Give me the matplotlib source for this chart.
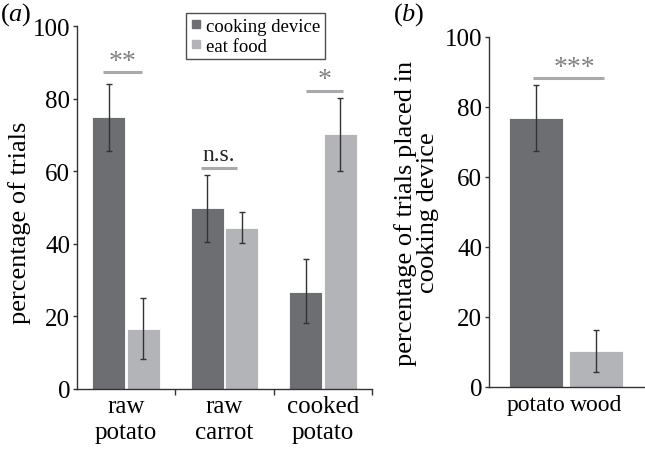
import matplotlib
matplotlib.use('Agg')
import matplotlib.pyplot as plt
from matplotlib.lines import Line2D
import numpy as np

plt.rcParams['font.family'] = ['Liberation Serif', 'DejaVu Serif']
plt.rcParams['mathtext.fontset'] = 'custom'
plt.rcParams['mathtext.rm'] = 'Liberation Serif'
plt.rcParams['mathtext.it'] = 'Liberation Serif:italic'

# panel (a) data
groups = ['raw\npotato', 'raw\ncarrot', 'cooked\npotato']
device = [74.8, 49.8, 26.8]
device_lo = [65.6, 40.6, 18.1]
device_hi = [84.1, 59.0, 35.7]
eat = [16.5, 44.3, 70.2]
eat_lo = [8.2, 40.1, 60.0]
eat_hi = [25.2, 48.7, 80.3]
sig_a = ['**', 'n.s.', '*']
sig_a_y = [87.2, 60.9, 82.2]

# panel (b) data
items = ['potato', 'wood']
placed = [76.9, 10.4]
placed_lo = [67.5, 4.2]
placed_hi = [86.3, 16.4]

dark = '#6d6e71'
light = '#b2b4b7'
sigc = '#a7a9ac'
axc = '#333333'

fig = plt.figure(figsize=(6.45, 4.52), dpi=100)

def style(ax):
    ax.spines['top'].set_visible(False)
    ax.spines['right'].set_visible(False)
    for s in ['left', 'bottom']:
        ax.spines[s].set_color(axc)
        ax.spines[s].set_linewidth(1.0)
    ax.set_ylim(0, 100)
    ax.set_yticks([0, 20, 40, 60, 80, 100])
    ax.tick_params(axis='y', length=3, width=1, color=axc, labelsize=18, pad=2)

# ---- (a)
ax = fig.add_axes([77/645, 62/452, 295/645, 363/452])
x = np.arange(len(groups))
w = 0.335
err_kw = dict(ecolor='#333333', elinewidth=1, capsize=2.5, capthick=1)
ax.bar(x - 0.175, device, w, color=dark, edgecolor='white', linewidth=0.6,
       yerr=[np.subtract(device, device_lo), np.subtract(device_hi, device)], error_kw=err_kw)
ax.bar(x + 0.175, eat, w, color=light, edgecolor='white', linewidth=0.6,
       yerr=[np.subtract(eat, eat_lo), np.subtract(eat_hi, eat)], error_kw=err_kw)
ax.set_xlim(-0.5, 2.5)
style(ax)
ax.set_xticks([0.5, 1.5, 2.5])
ax.set_xticklabels([])
ax.tick_params(axis='x', length=4, width=1, color=axc)
ax.set_xticks(x, minor=True)
ax.set_xticklabels(groups, minor=True, fontsize=18, linespacing=1.25)
ax.tick_params(axis='x', which='minor', length=0, pad=4)
ax.set_ylabel('percentage of trials', fontsize=19)
ax.yaxis.set_label_coords(-0.155, 0.46)

spans = [(-0.24, 0.16), (0.76, 1.13), (1.83, 2.20)]
for (a0, a1), yy, lab in zip(spans, sig_a_y, sig_a):
    ax.plot([a0, a1], [yy, yy], color=sigc, lw=2.2, solid_capstyle='butt', clip_on=False)
    if lab == 'n.s.':
        ax.text((a0 + a1) / 2, yy + 0.8, lab, ha='center', va='bottom', fontsize=17, color='#222222')
    else:
        ax.text((a0 + a1) / 2, yy - 0.5, lab, ha='center', va='bottom', fontsize=20, color='#808080')

handles = [Line2D([], [], marker='s', ls='none', color=dark, markersize=6),
           Line2D([], [], marker='s', ls='none', color=light, markersize=6)]
fig.legend(handles, ['cooking device', 'eat food'], loc='upper left',
           bbox_to_anchor=(186/645, 1 - 14/452), fontsize=13.5, frameon=True,
           fancybox=False, edgecolor='#222222', handlelength=0.6, handletextpad=0.2,
           borderpad=0.25, labelspacing=0.15, borderaxespad=0)

# ---- (b)
bx = fig.add_axes([489/645, 64/452, 156/645, 350/452])
xb = np.arange(len(items))
bx.bar(xb, placed, 0.9, color=[dark, light], edgecolor='white', linewidth=0.6,
       yerr=[np.subtract(placed, placed_lo), np.subtract(placed_hi, placed)], error_kw=err_kw)
bx.set_xlim(-0.79, 1.81)
style(bx)
bx.set_xticks(xb)
bx.set_xticklabels(items, fontsize=17)
bx.tick_params(axis='x', length=0, pad=5)
bx.set_ylabel('percentage of trials placed in\ncooking device', fontsize=19,
              labelpad=4, linespacing=1.0)
bx.plot([-0.06, 1.13], [88.3, 88.3], color=sigc, lw=2.2, solid_capstyle='butt')
bx.text(0.64, 87.8, '***', ha='center', va='bottom', fontsize=20, color='#808080')

fig.text(0.0, 1 - 15/452, r'$\mathrm{(}a\mathrm{)}$', fontsize=19, va='center', ha='left')
fig.text(393/645, 1 - 15/452, r'$\mathrm{(}b\mathrm{)}$', fontsize=19, va='center', ha='left')

fig.savefig('out.png', dpi=100)
